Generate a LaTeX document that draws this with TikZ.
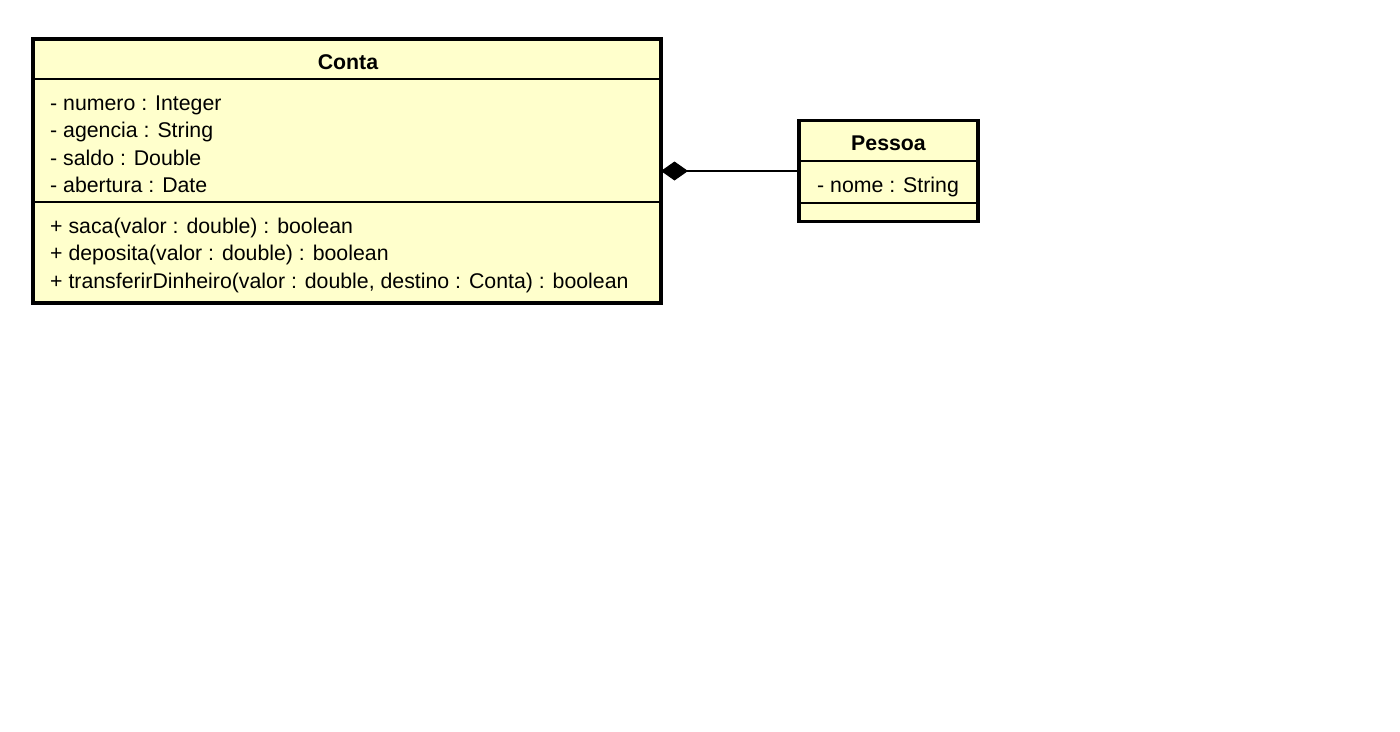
\documentclass[tikz,border=0pt]{standalone}
\usepackage{fontspec}
\setmainfont{Liberation Sans}
\usetikzlibrary{arrows.meta}
\definecolor{umlfill}{HTML}{FFFFCC}
\tikzset{
  classbox/.style={draw=black, fill=umlfill, line width=3.5pt, inner sep=0pt, outer sep=0pt, rectangle},
  sepline/.style={draw=black, line width=1.3pt},
  member/.style={anchor=base west, inner sep=0pt, font=\fontsize{21.3}{25}\selectfont},
  title/.style={anchor=base, inner sep=0pt, font=\fontsize{21.3}{25}\selectfont\bfseries},
  compose/.style={line width=1.3pt, {Diamond[length=27pt,width=19pt]}-},
}
\begin{document}
\begin{tikzpicture}[x=1pt,y=-1pt]
\useasboundingbox (0,0) rectangle (1400,731);
% Conta
\node[classbox, minimum width=628pt, minimum height=264pt] (conta) at (347,171) {};
\coordinate (c1l) at (35,79); \coordinate (c1r) at (659,79);
\coordinate (c2l) at (35,202); \coordinate (c2r) at (659,202);
\draw[sepline] (c1l) -- (c1r);
\draw[sepline] (c2l) -- (c2r);
\node[title] (contaT) at (348,69) {Conta};
\node[member] (a1) at (50,110) {- numero : Integer};
\node[member] (a2) at (50,137) {- agencia : String};
\node[member] (a3) at (50,165) {- saldo : Double};
\node[member] (a4) at (50,192) {- abertura : Date};
\node[member] (m1) at (50,233) {+ saca(valor : double) : boolean};
\node[member] (m2) at (50,260) {+ deposita(valor : double) : boolean};
\node[member] (m3) at (50,288) {+ transferirDinheiro(valor : double, destino : Conta) : boolean};
% Pessoa
\node[classbox, minimum width=179pt, minimum height=101pt] (pessoa) at (888.5,171) {};
\coordinate (p1l) at (801,161); \coordinate (p1r) at (976,161);
\coordinate (p2l) at (801,203); \coordinate (p2r) at (976,203);
\draw[sepline] (p1l) -- (p1r);
\draw[sepline] (p2l) -- (p2r);
\node[title] (pessoaT) at (888.5,150) {Pessoa};
\node[member] (n1) at (817,192) {- nome : String};
% composition
\draw[compose] (conta.east) -- (pessoa.west);
\end{tikzpicture}
\end{document}
